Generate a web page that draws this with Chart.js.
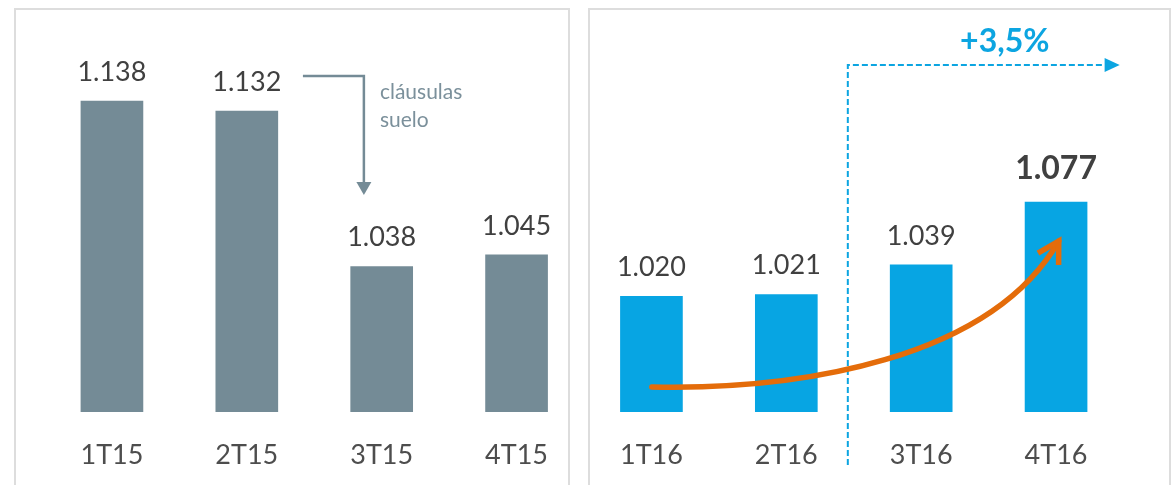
<!DOCTYPE html>
<html>
<head>
<meta charset="utf-8">
<script src="https://cdn.jsdelivr.net/npm/chart.js@4/dist/chart.umd.min.js"></script>
<style>
    html, body { margin: 0; padding: 0; background: #fff; }
    #wrap { position: relative; width: 1173px; height: 485px; overflow: hidden; }
    .panel { position: absolute; top: 8px; height: 500px; border: 2px solid #dddddd; box-sizing: border-box; }
    #p1 { left: 14px; width: 556px; }
    #p2 { left: 588px; width: 583px; }
    canvas { position: absolute; left: 0; top: 0; }
</style>
</head>
<body>
<div id="wrap">
    <div class="panel" id="p1"></div>
    <div class="panel" id="p2"></div>
    <canvas id="chart" width="1173" height="485"></canvas>
</div>
<script>
// Datos
const categories2015 = ["1T15", "2T15", "3T15", "4T15"];
const values2015 = [1.138, 1.132, 1.038, 1.045];
const categories2016 = ["1T16", "2T16", "3T16", "4T16"];
const values2016 = [1.020, 1.021, 1.039, 1.077];
const growthLabel = "+3,5%";
const noteLines = ["cláusulas", "suelo"];

const grayBar = "#748b96";
const blueBar = "#07a5e3";
const orange = "#e46c0a";
const blueLine = "#0ca5e1";

const labels = categories2015.concat(categories2016);
const values = values2015.concat(values2016);
const barColors = values2015.map(() => grayBar).concat(values2016.map(() => blueBar));
const lastIndex = values.length - 1;

function fmt(v) {
    return v.toFixed(3);
}

// Etiquetas de valor sobre cada barra
const valueLabels = {
    id: "valueLabels",
    afterDatasetsDraw(chart) {
        const ctx = chart.ctx;
        const meta = chart.getDatasetMeta(0);
        ctx.save();
        ctx.textAlign = "center";
        ctx.textBaseline = "middle";
        meta.data.forEach((bar, i) => {
            const bold = i === lastIndex;
            ctx.font = bold ? "bold 32px Lato" : "27px Lato";
            ctx.fillStyle = "#404040";
            ctx.fillText(fmt(values[i]), bar.x, bar.y - (bold ? 33 : 29));
        });
        ctx.restore();
    },
};

// Flechas y textos de anotación, situados en coordenadas de los ejes
const annotations = {
    id: "annotations",
    afterDatasetsDraw(chart) {
        const ctx = chart.ctx;
        const xs = chart.scales.x;
        const ys = chart.scales.y;
        const px = (i) => xs.getPixelForValue(i);
        const py = (v) => ys.getPixelForValue(v);

        ctx.save();

        // flecha gris "cláusulas suelo"
        ctx.strokeStyle = grayBar;
        ctx.fillStyle = grayBar;
        ctx.lineWidth = 2.5;
        const gx0 = px(1.416), gx1 = px(1.868);
        const gy0 = py(1.1533), gy1 = py(1.0891), gyTip = py(1.0813);
        ctx.beginPath();
        ctx.moveTo(gx0, gy0);
        ctx.lineTo(gx1, gy0);
        ctx.lineTo(gx1, gy1 + 1);
        ctx.stroke();
        ctx.beginPath();
        ctx.moveTo(gx1 - 7.5, gy1);
        ctx.lineTo(gx1 + 7.5, gy1);
        ctx.lineTo(gx1, gyTip);
        ctx.closePath();
        ctx.fill();

        ctx.font = "21px Lato";
        ctx.fillStyle = "#7b909b";
        ctx.textAlign = "left";
        ctx.textBaseline = "middle";
        ctx.fillText(noteLines[0], px(1.987), py(1.1437));
        ctx.fillText(noteLines[1], px(1.987), py(1.1262));

        // línea azul discontinua con flecha
        ctx.strokeStyle = blueLine;
        ctx.fillStyle = blueLine;
        ctx.lineWidth = 2;
        ctx.setLineDash([6, 3]);
        const bx0 = px(5.456), bx1 = px(7.36), bxTip = px(7.472);
        const byTop = py(1.1599), byBottom = py(0.918);
        ctx.beginPath();
        ctx.moveTo(bx0, byBottom);
        ctx.lineTo(bx0, byTop);
        ctx.lineTo(bx1, byTop);
        ctx.stroke();
        ctx.setLineDash([]);
        ctx.beginPath();
        ctx.moveTo(bx1, byTop - 7);
        ctx.lineTo(bxTip, byTop);
        ctx.lineTo(bx1, byTop + 7);
        ctx.closePath();
        ctx.fill();

        ctx.font = "bold 32px Lato";
        ctx.textAlign = "center";
        ctx.fillText(growthLabel, px(6.62), py(1.1738));

        // curva naranja de crecimiento
        const p0 = [px(4.003), py(0.9651)];
        const p1 = [px(5.10), py(0.9633)];
        const p2 = [px(6.508), py(0.9815)];
        const p3 = [px(7.02), py(1.0534)];
        ctx.strokeStyle = orange;
        ctx.lineWidth = 5.5;
        ctx.lineCap = "round";
        ctx.beginPath();
        ctx.moveTo(p0[0], p0[1]);
        ctx.bezierCurveTo(p1[0], p1[1], p2[0], p2[1], p3[0], p3[1]);
        ctx.stroke();

        const back = Math.atan2(p2[1] - p3[1], p2[0] - p3[0]);
        const arm = 24;
        ctx.lineCap = "butt";
        ctx.lineJoin = "miter";
        ctx.beginPath();
        ctx.moveTo(p3[0] + arm * Math.cos(back + 0.52), p3[1] + arm * Math.sin(back + 0.52));
        ctx.lineTo(p3[0], p3[1]);
        ctx.lineTo(p3[0] + arm * Math.cos(back - 0.52), p3[1] + arm * Math.sin(back - 0.52));
        ctx.stroke();

        ctx.restore();
    },
};

new Chart(document.getElementById("chart"), {
    type: "bar",
    data: {
        labels: labels,
        datasets: [
            {
                data: values,
                backgroundColor: barColors,
                borderWidth: 0,
                barThickness: 62,
            },
        ],
    },
    options: {
        responsive: false,
        animation: false,
        layout: {
            padding: { left: 44.5, right: 49.5, top: 40, bottom: 14 },
        },
        plugins: {
            legend: { display: false },
            tooltip: { enabled: false },
        },
        scales: {
            y: {
                display: false,
                min: 0.95,
                max: 1.175,
            },
            x: {
                grid: { display: false, drawTicks: false },
                border: { display: false },
                afterFit: (scale) => {
                    scale.height = 59;
                },
                ticks: {
                    color: "#4d4d4d",
                    padding: 27,
                    font: { family: "Lato", size: 27 },
                },
            },
        },
    },
    plugins: [valueLabels, annotations],
});
</script>
</body>
</html>
